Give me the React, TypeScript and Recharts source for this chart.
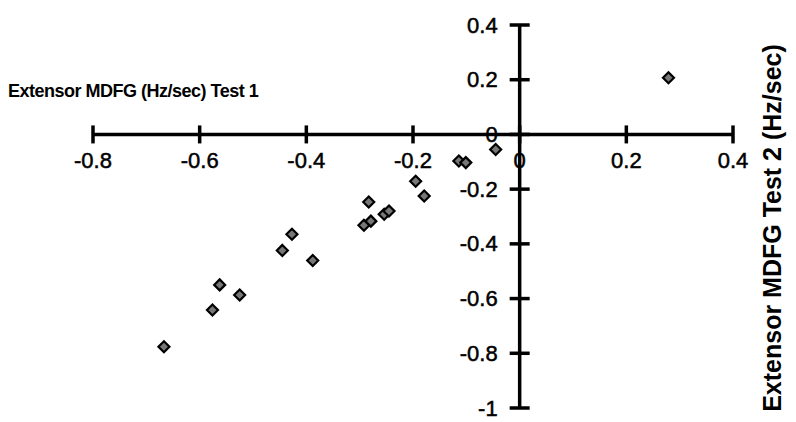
import React from 'react';
import { ScatterChart, Scatter, XAxis, YAxis, ReferenceLine, ReferenceDot } from 'recharts';

const test1 = [-0.667, -0.576, -0.5625, -0.525, -0.445, -0.427, -0.388, -0.283, -0.292, -0.279, -0.254, -0.245, -0.195, -0.179, -0.114, -0.101, -0.045, 0.279];
const test2 = [-0.776, -0.642, -0.55, -0.587, -0.424, -0.365, -0.461, -0.247, -0.332, -0.317, -0.292, -0.28, -0.171, -0.225, -0.097, -0.103, -0.055, 0.207];

const xTicks = [-0.8, -0.6, -0.4, -0.2, 0, 0.2, 0.4];
const xTickLabels = ['-0.8', '-0.6', '-0.4', '-0.2', '0', '0.2', '0.4'];
const yTicks = [-1, -0.8, -0.6, -0.4, -0.2, 0, 0.2, 0.4];
const yTickLabels = ['-1', '-0.8', '-0.6', '-0.4', '-0.2', '0', '0.2', '0.4'];

const xTitle = 'Extensor MDFG (Hz/sec) Test 1';
const yTitle = 'Extensor MDFG Test 2 (Hz/sec)';

const data = test1.map((x, i) => ({ x, y: test2[i] }));

const FONT = '"Liberation Sans", Arial, sans-serif';

const Diamond = (props: any) => {
  const { cx, cy } = props;
  const s = 5.5;
  return (
    <path
      d={`M${cx},${cy - s} L${cx + s},${cy} L${cx},${cy + s} L${cx - s},${cy} Z`}
      fill="#777"
      stroke="#000"
      strokeWidth={2.2}
    />
  );
};

const makeXTick = (label: string) => (p: any) => (
  <g>
    <line x1={p.cx} x2={p.cx} y1={p.cy - 9} y2={p.cy + 9} stroke="#000" strokeWidth={3.5} />
    <text x={p.cx} y={p.cy + 26} textAnchor="middle" dominantBaseline="central" fontFamily={FONT} fontSize={22} fill="#000" stroke="#000" strokeWidth={0.5}>
      {label}
    </text>
  </g>
);

const makeYTick = (label: string) => (p: any) => (
  <g>
    <line x1={p.cx - 10} x2={p.cx + 10} y1={p.cy} y2={p.cy} stroke="#000" strokeWidth={3.5} />
    <text x={p.cx - 22} y={p.cy} textAnchor="end" dominantBaseline="central" fontFamily={FONT} fontSize={22} fill="#000" stroke="#000" strokeWidth={0.5}>
      {label}
    </text>
  </g>
);

export default function App() {
  return (
    <div style={{ position: 'absolute', left: 0, top: 0, width: 796, height: 422, background: '#fff' }}>
      <ScatterChart width={796} height={422} margin={{ top: 25, right: 63, bottom: 14, left: 93 }}>
        <XAxis type="number" dataKey="x" domain={[-0.8, 0.4]} ticks={xTicks} hide allowDataOverflow />
        <YAxis type="number" dataKey="y" domain={[-1, 0.4]} ticks={yTicks} hide allowDataOverflow />
        <ReferenceLine y={0} stroke="#000" strokeWidth={3.5} />
        <ReferenceLine x={0} stroke="#000" strokeWidth={3.5} />
        {xTicks.map((t, i) => (
          <ReferenceDot key={'xt' + i} x={t} y={0} r={0} shape={makeXTick(xTickLabels[i])} />
        ))}
        {yTicks.map((t, i) => (
          <ReferenceDot key={'yt' + i} x={0} y={t} r={0} shape={makeYTick(yTickLabels[i])} />
        ))}
        <Scatter data={data} shape={<Diamond />} isAnimationActive={false} />
      </ScatterChart>
      <svg width={796} height={422} style={{ position: 'absolute', left: 0, top: 0, pointerEvents: 'none' }}>
        <text x={8} y={91} dominantBaseline="central" fontFamily={FONT} fontSize={18} fontWeight="bold" letterSpacing={-0.5} fill="#000">
          {xTitle}
        </text>
        <text
          x={772}
          y={228}
          textAnchor="middle"
          dominantBaseline="central"
          fontFamily={FONT}
          fontSize={25}
          fontWeight="bold"
          fill="#000"
          transform="rotate(-90 772 228)"
        >
          {yTitle}
        </text>
      </svg>
    </div>
  );
}
